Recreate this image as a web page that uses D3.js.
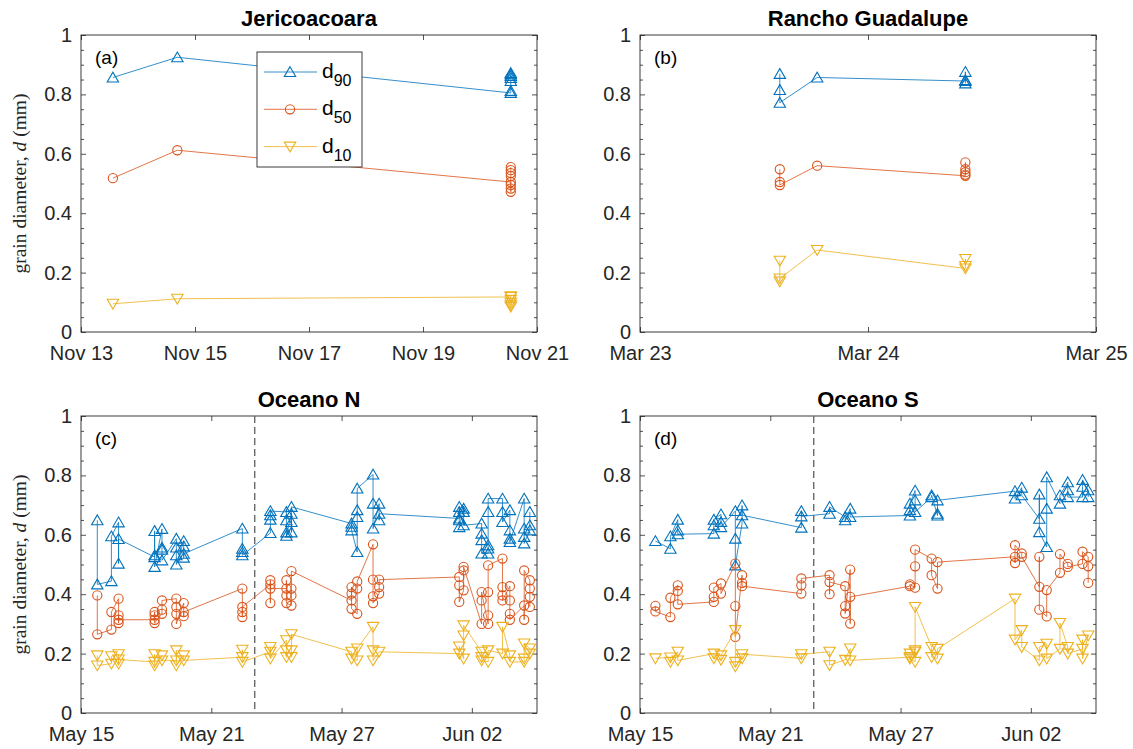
<!DOCTYPE html>
<html>
<head>
<meta charset="utf-8">
<script src="https://cdn.jsdelivr.net/npm/d3@7"></script>
<style>
  body { margin: 0; background: #fff; }
  svg { display: block; }
</style>
</head>
<body>
<div id="chart"></div>
<script>
// ---- data: each point is [days after site start date, grain diameter (mm)] ----
const seriesSubs = ["90", "50", "10"];
const seriesColors = ["#0072BD", "#D95319", "#EDB120"];
const seriesMarkers = ["up", "circle", "down"];

// Jericoacoara
const jeriStart = "2014-11-13", jeriEnd = "2014-11-21";
const jeriTicks = ["2014-11-13", "2014-11-15", "2014-11-17", "2014-11-19", "2014-11-21"];
const jeriD90 = [[0.56,0.857],[1.69,0.925],[7.54,0.805],[7.54,0.812],[7.54,0.845],[7.54,0.855],[7.54,0.862],[7.54,0.868],[7.54,0.872]];
const jeriD50 = [[0.56,0.518],[1.69,0.612],[7.54,0.505],[7.54,0.472],[7.54,0.483],[7.54,0.495],[7.54,0.525],[7.54,0.535],[7.54,0.545],[7.54,0.555]];
const jeriD10 = [[0.56,0.095],[1.69,0.112],[7.54,0.118],[7.54,0.120],[7.54,0.108],[7.54,0.098],[7.54,0.090],[7.54,0.085]];

// Rancho Guadalupe
const rgStart = "2015-03-23", rgEnd = "2015-03-25";
const rgTicks = ["2015-03-23", "2015-03-24", "2015-03-25"];
const rgD90 = [[0.613,0.869],[0.613,0.815],[0.613,0.772],[0.777,0.857],[1.427,0.845],[1.427,0.876],[1.427,0.848],[1.427,0.837]];
const rgD50 = [[0.613,0.548],[0.613,0.505],[0.613,0.495],[0.777,0.560],[1.427,0.526],[1.427,0.571],[1.427,0.548],[1.427,0.538],[1.427,0.530]];
const rgD10 = [[0.613,0.240],[0.613,0.170],[0.613,0.180],[0.777,0.276],[1.427,0.214],[1.427,0.246],[1.427,0.222]];

// Oceano (both transects share dates)
const oceanoStart = "2015-05-15", oceanoEnd = "2015-06-05";
const oceanoTicks = ["2015-05-15", "2015-05-21", "2015-05-27", "2015-06-02"];
const oceanoMarkDate = "2015-05-23";

const oceanoND90 = [
  [0.75,0.649],[0.75,0.433],[1.40,0.444],[1.40,0.595],[1.73,0.642],[1.73,0.503],[1.73,0.586],
  [3.39,0.525],[3.39,0.613],[3.39,0.531],[3.39,0.492],[3.73,0.620],[3.73,0.557],[3.73,0.550],[3.73,0.514],
  [4.39,0.587],[4.39,0.557],[4.39,0.531],[4.39,0.500],[4.73,0.579],[4.73,0.561],[4.73,0.523],[4.73,0.536],
  [7.43,0.621],[7.43,0.553],[7.43,0.542],[7.43,0.531],[8.72,0.606],[8.72,0.651],[8.72,0.666],[8.72,0.680],
  [9.46,0.677],[9.46,0.649],[9.46,0.608],[9.46,0.597],[9.69,0.671],[9.69,0.643],[9.69,0.608],[9.69,0.694],
  [12.46,0.638],[12.46,0.627],[12.46,0.615],[12.72,0.542],[12.72,0.660],[12.72,0.683],[12.72,0.756],
  [13.45,0.803],[13.45,0.705],[13.45,0.621],[13.73,0.705],[13.73,0.649],[13.73,0.671],
  [17.42,0.655],[17.42,0.694],[17.42,0.677],[17.42,0.649],[17.42,0.626],[17.62,0.688],[17.62,0.677],[17.62,0.632],
  [18.45,0.638],[18.45,0.604],[18.45,0.582],[18.45,0.537],[18.75,0.537],[18.75,0.554],[18.75,0.565],[18.75,0.677],[18.75,0.722],
  [19.41,0.722],[19.41,0.677],[19.41,0.643],[19.75,0.683],[19.75,0.615],[19.75,0.587],[19.75,0.576],
  [20.41,0.722],[20.41,0.621],[20.41,0.593],[20.41,0.571],[20.67,0.615],[20.67,0.632],[20.67,0.677]
];
const oceanoND50 = [
  [0.75,0.396],[0.75,0.265],[1.40,0.281],[1.40,0.340],[1.73,0.385],[1.73,0.303],[1.73,0.329],[1.73,0.314],
  [3.39,0.314],[3.39,0.340],[3.39,0.329],[3.39,0.303],[3.73,0.334],[3.73,0.348],[3.73,0.379],
  [4.39,0.385],[4.39,0.357],[4.39,0.334],[4.39,0.300],[4.73,0.370],[4.73,0.326],[4.73,0.340],
  [7.43,0.419],[7.43,0.340],[7.43,0.323],[7.43,0.357],[8.72,0.433],[8.72,0.370],[8.72,0.447],[8.72,0.419],
  [9.46,0.419],[9.46,0.447],[9.46,0.396],[9.46,0.370],[9.69,0.362],[9.69,0.396],[9.69,0.419],[9.69,0.478],
  [12.46,0.379],[12.46,0.424],[12.46,0.402],[12.46,0.351],[12.72,0.334],[12.72,0.419],[12.72,0.443],
  [13.45,0.568],[13.45,0.449],[13.45,0.393],[13.45,0.370],[13.73,0.402],[13.73,0.424],[13.73,0.449],
  [17.42,0.458],[17.42,0.430],[17.42,0.374],[17.62,0.413],[17.62,0.480],[17.62,0.492],
  [18.45,0.300],[18.45,0.379],[18.45,0.407],[18.75,0.300],[18.75,0.329],[18.75,0.407],[18.75,0.497],
  [19.41,0.520],[19.41,0.424],[19.41,0.396],[19.41,0.379],[19.75,0.427],[19.75,0.379],[19.75,0.334],[19.75,0.314],
  [20.41,0.362],[20.41,0.314],[20.41,0.480],[20.67,0.447],[20.67,0.419],[20.67,0.391],[20.67,0.357]
];
const oceanoND10 = [
  [0.75,0.194],[0.75,0.160],[1.40,0.166],[1.40,0.191],[1.73,0.198],[1.73,0.166],[1.73,0.180],
  [3.39,0.172],[3.39,0.198],[3.39,0.160],[3.73,0.194],[3.73,0.177],
  [4.39,0.177],[4.39,0.211],[4.39,0.160],[4.73,0.194],[4.73,0.177],
  [7.43,0.188],[7.43,0.213],[7.43,0.172],[8.72,0.206],[8.72,0.222],[8.72,0.183],
  [9.46,0.245],[9.46,0.211],[9.46,0.188],[9.69,0.188],[9.69,0.211],[9.69,0.265],
  [12.46,0.206],[12.46,0.183],[12.72,0.177],[12.72,0.217],
  [13.45,0.290],[13.45,0.211],[13.45,0.177],[13.73,0.206],
  [17.42,0.200],[17.42,0.224],[17.62,0.183],[17.62,0.261],[17.62,0.295],
  [18.45,0.206],[18.45,0.188],[18.45,0.177],[18.75,0.172],[18.75,0.211],
  [19.41,0.200],[19.41,0.290],[19.75,0.194],[19.75,0.172],
  [20.41,0.172],[20.41,0.183],[20.41,0.234],[20.67,0.217],[20.67,0.200]
];

const oceanoSD90 = [
  [0.71,0.579],[1.40,0.553],[1.40,0.595],[1.74,0.651],[1.74,0.615],[1.74,0.602],
  [3.40,0.604],[3.40,0.632],[3.40,0.651],[3.73,0.669],[3.73,0.643],[3.73,0.626],
  [4.39,0.680],[4.39,0.587],[4.39,0.497],[4.70,0.638],[4.70,0.699],[4.70,0.666],
  [7.43,0.624],[7.43,0.680],[7.43,0.662],[8.73,0.671],[8.73,0.694],
  [9.45,0.660],[9.45,0.649],[9.68,0.688],[9.68,0.660],
  [12.43,0.665],[12.43,0.683],[12.43,0.705],[12.67,0.749],[12.67,0.716],[12.67,0.677],
  [13.43,0.727],[13.43,0.733],[13.70,0.665],[13.70,0.671],[13.70,0.716],
  [17.27,0.747],[17.27,0.722],[17.58,0.759],[17.58,0.733],
  [18.39,0.654],[18.39,0.736],[18.39,0.609],[18.73,0.559],[18.73,0.688],[18.73,0.794],
  [19.34,0.705],[19.34,0.733],[19.70,0.777],[19.70,0.750],[19.70,0.727],
  [20.38,0.727],[20.38,0.762],[20.38,0.785],[20.64,0.750],[20.64,0.727]
];
const oceanoSD50 = [
  [0.71,0.361],[0.71,0.342],[1.40,0.323],[1.40,0.388],[1.74,0.430],[1.74,0.411],[1.74,0.366],
  [3.40,0.374],[3.40,0.391],[3.40,0.422],[3.73,0.436],[3.73,0.402],
  [4.39,0.503],[4.39,0.360],[4.39,0.256],[4.70,0.464],[4.70,0.438],[4.70,0.427],
  [7.43,0.402],[7.43,0.430],[7.43,0.453],[8.73,0.464],[8.73,0.400],[8.73,0.441],
  [9.45,0.427],[9.45,0.360],[9.45,0.335],[9.68,0.483],[9.68,0.301],[9.68,0.391],
  [12.43,0.427],[12.43,0.433],[12.67,0.422],[12.67,0.494],[12.67,0.550],
  [13.43,0.520],[13.43,0.464],[13.70,0.419],[13.70,0.508],
  [17.27,0.526],[17.27,0.505],[17.27,0.565],[17.58,0.537],[17.58,0.526],
  [18.39,0.425],[18.39,0.526],[18.39,0.348],[18.73,0.325],[18.73,0.414],
  [19.34,0.472],[19.34,0.535],[19.70,0.502],[19.70,0.492],
  [20.38,0.502],[20.38,0.543],[20.64,0.526],[20.64,0.494],[20.64,0.438]
];
const oceanoSD10 = [
  [0.71,0.184],[1.40,0.187],[1.40,0.172],[1.74,0.206],[1.74,0.177],
  [3.40,0.200],[3.40,0.184],[3.73,0.179],[3.73,0.194],
  [4.39,0.279],[4.39,0.172],[4.39,0.157],[4.70,0.184],[4.70,0.198],
  [7.43,0.184],[7.43,0.198],[8.73,0.206],[8.73,0.161],
  [9.45,0.179],[9.68,0.217],[9.68,0.177],
  [12.43,0.188],[12.43,0.200],[12.43,0.183],[12.67,0.172],[12.67,0.206],[12.67,0.211],[12.67,0.357],
  [13.43,0.222],[13.43,0.188],[13.70,0.183],[13.70,0.216],
  [17.27,0.385],[17.27,0.247],[17.58,0.279],[17.58,0.222],
  [18.39,0.177],[18.39,0.222],[18.73,0.233],[18.73,0.183],
  [19.34,0.216],[19.34,0.303],[19.70,0.222],[19.70,0.200],
  [20.38,0.216],[20.38,0.247],[20.38,0.183],[20.64,0.261]
];

const yTicks = [0, 0.2, 0.4, 0.6, 0.8, 1];
const yMinorTicks = [0.05, 0.1, 0.15, 0.25, 0.3, 0.35, 0.45, 0.5, 0.55, 0.65, 0.7, 0.75, 0.85, 0.9, 0.95];

// ---- layout ----
const width = 1133, height = 749;
const panelW = 456, panelH = 297;
const axisColor = "#262626";
const sansFont = "'Liberation Sans', Arial, Helvetica, sans-serif";
const serifFont = "'Liberation Serif', 'DejaVu Serif', serif";

const parseDay = d3.timeParse("%Y-%m-%d");
const tickFmt = d3.timeFormat("%b %d");

const panels = [
  {label: "(a)", title: "Jericoacoara", start: jeriStart, end: jeriEnd, ticks: jeriTicks,
   data: [jeriD90, jeriD50, jeriD10], left: 81, top: 35, yLabel: true, legend: true},
  {label: "(b)", title: "Rancho Guadalupe", start: rgStart, end: rgEnd, ticks: rgTicks,
   data: [rgD90, rgD50, rgD10], left: 640, top: 35},
  {label: "(c)", title: "Oceano N", start: oceanoStart, end: oceanoEnd, ticks: oceanoTicks,
   data: [oceanoND90, oceanoND50, oceanoND10], left: 81, top: 416, yLabel: true, mark: oceanoMarkDate},
  {label: "(d)", title: "Oceano S", start: oceanoStart, end: oceanoEnd, ticks: oceanoTicks,
   data: [oceanoSD90, oceanoSD50, oceanoSD10], left: 640, top: 416, mark: oceanoMarkDate}
];

const svg = d3.select("#chart")
    .append("svg")
    .attr("width", width)
    .attr("height", height)
    .attr("viewBox", `0 0 ${width} ${height}`);

svg.append("rect").attr("width", width).attr("height", height).attr("fill", "#fff");

function drawMarker(sel, kind, color) {
    if (kind === "circle") {
        sel.append("circle").attr("r", 4.6)
            .attr("fill", "none").attr("stroke", color).attr("stroke-width", 1.1);
    } else {
        const p = kind === "up" ? "M0,-5.3L5.7,4.5L-5.7,4.5Z" : "M0,5.3L5.7,-4.5L-5.7,-4.5Z";
        sel.append("path").attr("d", p)
            .attr("fill", "none").attr("stroke", color).attr("stroke-width", 1.1)
            .attr("stroke-linejoin", "miter");
    }
}

function styleAxis(g) {
    g.select(".domain").remove();
    g.selectAll(".tick line").attr("stroke", axisColor).attr("stroke-width", 0.8);
    g.selectAll(".tick text")
        .attr("fill", axisColor)
        .style("font-family", sansFont)
        .style("font-size", "20px");
}

panels.forEach(p => {
    const start = parseDay(p.start);
    const x = d3.scaleTime().domain([start, parseDay(p.end)]).range([0, panelW]);
    const y = d3.scaleLinear().domain([0, 1]).range([panelH, 0]);
    const toDate = d => d3.timeMinute.offset(start, Math.round(d * 1440));
    const tickDates = p.ticks.map(parseDay);

    const g = svg.append("g").attr("transform", `translate(${p.left},${p.top})`);

    // title
    svg.append("text")
        .attr("x", p.left + panelW / 2)
        .attr("y", p.top - 9)
        .attr("text-anchor", "middle")
        .style("font-family", sansFont)
        .style("font-size", "22px")
        .style("font-weight", "bold")
        .attr("fill", "#000")
        .text(p.title);

    // axes (ticks point inward, box on)
    g.append("g").attr("transform", `translate(0,${panelH})`)
        .call(d3.axisBottom(x).tickValues(tickDates).tickFormat(tickFmt)
            .tickSizeInner(-5).tickSizeOuter(0).tickPadding(14))
        .call(styleAxis);
    g.append("g")
        .call(d3.axisTop(x).tickValues(tickDates).tickFormat("")
            .tickSizeInner(-5).tickSizeOuter(0))
        .call(styleAxis);
    g.append("g")
        .call(d3.axisLeft(y).tickValues(yTicks).tickFormat(d3.format("~g"))
            .tickSizeInner(-5).tickSizeOuter(0).tickPadding(9))
        .call(styleAxis);
    g.append("g").attr("transform", `translate(${panelW},0)`)
        .call(d3.axisRight(y).tickValues(yTicks).tickFormat("")
            .tickSizeInner(-5).tickSizeOuter(0))
        .call(styleAxis);
    g.append("g")
        .call(d3.axisLeft(y).tickValues(yMinorTicks).tickFormat("")
            .tickSizeInner(-3).tickSizeOuter(0))
        .call(styleAxis);
    g.append("g").attr("transform", `translate(${panelW},0)`)
        .call(d3.axisRight(y).tickValues(yMinorTicks).tickFormat("")
            .tickSizeInner(-3).tickSizeOuter(0))
        .call(styleAxis);

    g.append("rect")
        .attr("width", panelW).attr("height", panelH)
        .attr("fill", "none").attr("stroke", axisColor).attr("stroke-width", 0.9);

    // dashed marker line
    if (p.mark) {
        const mx = x(parseDay(p.mark));
        g.append("line")
            .attr("x1", mx).attr("x2", mx).attr("y1", 0).attr("y2", panelH)
            .attr("stroke", "#6a6a6a").attr("stroke-width", 1.4)
            .attr("stroke-dasharray", "7,4");
    }

    // series
    const line = d3.line().x(d => x(toDate(d[0]))).y(d => y(d[1]));
    p.data.forEach((pts, i) => {
        g.append("path")
            .datum(pts)
            .attr("d", line)
            .attr("fill", "none")
            .attr("stroke", seriesColors[i])
            .attr("stroke-width", 0.8);
        const m = g.append("g").selectAll("g")
            .data(pts)
            .join("g")
            .attr("transform", d => `translate(${x(toDate(d[0]))},${y(d[1])})`);
        drawMarker(m, seriesMarkers[i], seriesColors[i]);
    });

    // panel letter
    g.append("text")
        .attr("x", 14).attr("y", 29)
        .style("font-family", sansFont)
        .style("font-size", "19px")
        .attr("fill", "#000")
        .text(p.label);

    // y label
    if (p.yLabel) {
        const t = svg.append("text")
            .attr("transform", `translate(26,${p.top + panelH / 2}) rotate(-90)`)
            .attr("text-anchor", "middle")
            .style("font-family", serifFont)
            .style("font-size", "19.5px")
            .attr("fill", axisColor);
        t.append("tspan").text("grain diameter, ");
        t.append("tspan").style("font-style", "italic").text("d");
        t.append("tspan").text(" (mm)");
    }

    // legend
    if (p.legend) {
        const lg = g.append("g").attr("transform", "translate(176,17)");
        lg.append("rect")
            .attr("width", 105).attr("height", 115)
            .attr("fill", "#fff").attr("stroke", axisColor).attr("stroke-width", 0.9);
        seriesSubs.forEach((s, i) => {
            const ry = 20 + i * 37.3;
            lg.append("line")
                .attr("x1", 7).attr("x2", 60).attr("y1", ry).attr("y2", ry)
                .attr("stroke", seriesColors[i]).attr("stroke-width", 0.8);
            drawMarker(lg.append("g").attr("transform", `translate(33,${ry})`), seriesMarkers[i], seriesColors[i]);
            const t = lg.append("text")
                .attr("x", 65).attr("y", ry + 6)
                .style("font-family", sansFont)
                .style("font-size", "21px")
                .attr("fill", "#000");
            t.append("tspan").text("d");
            t.append("tspan").attr("dy", 8).style("font-size", "16px").text(s);
        });
    }
});
</script>
</body>
</html>
